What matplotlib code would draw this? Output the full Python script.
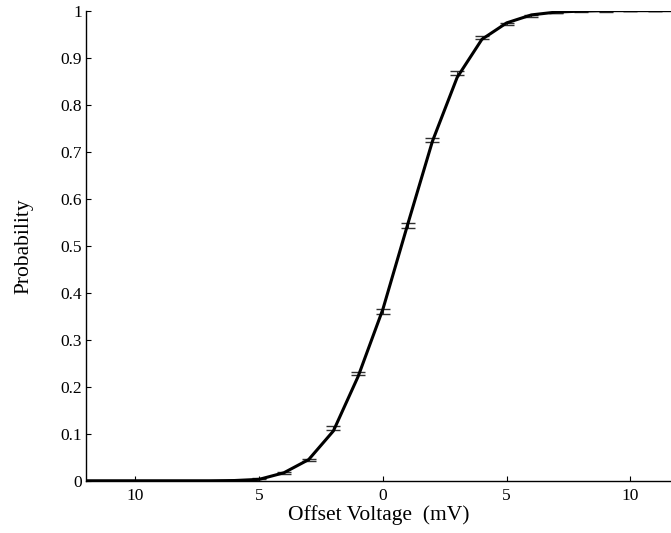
#!/usr/bin/env python3

"""
Probability vs. offset voltage, measured points with error bars and fitted curve
"""

import matplotlib
matplotlib.use('Agg')
import matplotlib.pyplot as plt
import numpy as np

plt.rcParams['font.family'] = ['Liberation Serif', 'DejaVu Serif']

# measured points (mV) with error bars
voltage = [-11, -10, -9, -8, -7, -6, -5, -4, -3, -2, -1, 0, 1, 2, 3, 4, 5,
           6, 7, 8, 9, 10, 11]
probMeas = [0.0, 0.0, 0.0, 0.0, 0.0, 0.0005, 0.004, 0.016, 0.044, 0.112,
            0.228, 0.360, 0.543, 0.725, 0.868, 0.943, 0.972, 0.988, 0.995,
            0.998, 0.999, 1.0, 1.0]
probErr = [0.0, 0.0, 0.0, 0.0, 0.0, 0.0005, 0.001, 0.002, 0.003, 0.004,
           0.004, 0.005, 0.005, 0.005, 0.004, 0.003, 0.002, 0.002, 0.001,
           0.001, 0.001, 0.0, 0.0]

# fitted curve
fitVoltage = [-12, -11, -10, -9, -8, -7, -6, -5, -4, -3, -2, -1, 0, 1, 2, 3,
              4, 5, 6, 7, 8, 9, 10, 11, 12]
probFit = [0.0, 0.0, 0.0, 0.0, 0.0, 0.0, 0.0005, 0.003, 0.017, 0.045, 0.106,
           0.222, 0.365, 0.545, 0.722, 0.858, 0.939, 0.974, 0.991, 0.997,
           0.999, 1.0, 1.0, 1.0, 1.0]

xTicks = [-10, -5, 0, 5, 10]
xTickLabels = ['10', '5', '0', '5', '10']
yTicks = [0, 0.1, 0.2, 0.3, 0.4, 0.5, 0.6, 0.7, 0.8, 0.9, 1.0]
yTickLabels = ['0', '0.1', '0.2', '0.3', '0.4', '0.5', '0.6', '0.7', '0.8',
               '0.9', '1']

fig = plt.figure(figsize=(6.71, 5.33), dpi=100)
ax = fig.add_axes([0.128, 0.098, 0.872, 0.882])

ax.errorbar(voltage, probMeas, yerr=probErr, fmt='none', ecolor='#303030',
            elinewidth=0.8, capsize=5, capthick=1.0, zorder=2)
ax.plot(fitVoltage, probFit, color='black', linewidth=2.2, zorder=3)

ax.set_xlim(-12, 11.64)
ax.set_ylim(0, 1)
ax.set_xticks(xTicks)
ax.set_xticklabels(xTickLabels)
ax.set_yticks(yTicks)
ax.set_yticklabels(yTickLabels)

for side in ['top', 'right']:
    ax.spines[side].set_visible(False)
for side in ['left', 'bottom']:
    ax.spines[side].set_linewidth(1.0)

ax.tick_params(direction='in', length=3.5, width=0.8, labelsize=12.5)
ax.tick_params(axis='x', pad=5)
ax.tick_params(axis='y', pad=3)

ax.set_xlabel('Offset Voltage  (mV)', fontsize=15.5, labelpad=1)
ax.set_ylabel('Probability', fontsize=15.5, labelpad=19)

fig.savefig('out.png', dpi=100)
